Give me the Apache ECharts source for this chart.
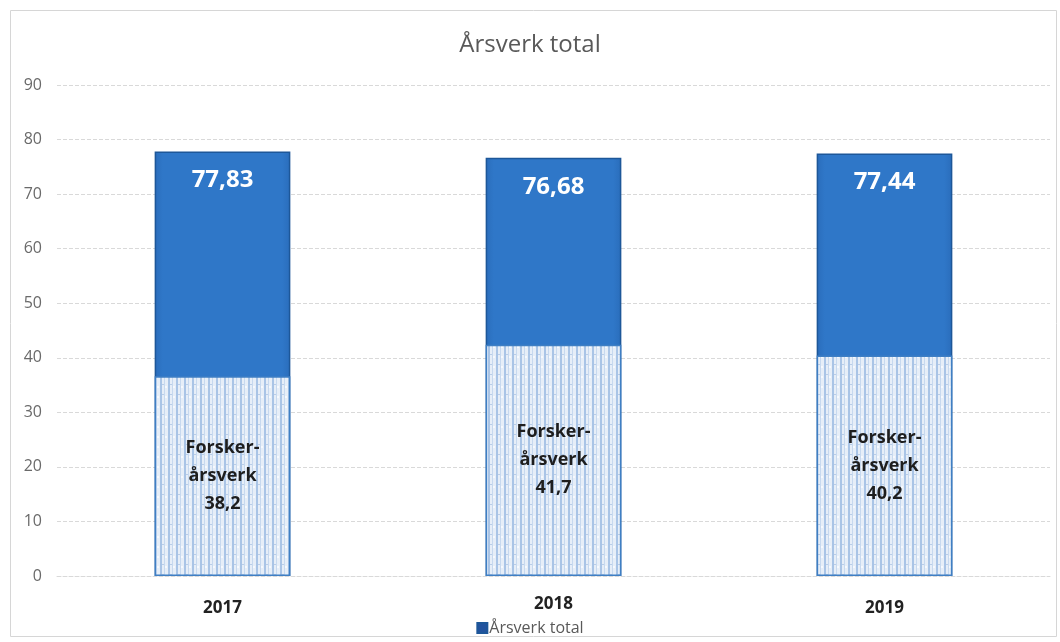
<!DOCTYPE html>
<html><head><meta charset="utf-8">
<script src="https://cdn.jsdelivr.net/npm/echarts@6/dist/echarts.min.js"></script>
<style>html,body{margin:0;padding:0;background:#fff}#c{width:1060px;height:642px}</style>
</head><body><div id="c"></div>
<script>
const categories = ['2017', '2018', '2019'];
const totals = [77.83, 76.68, 77.44];
const forskerHeights = [36.6, 42.4, 40.4];
const forskerValues = [38.2, 41.7, 40.2];
const yTicks = [0, 10, 20, 30, 40, 50, 60, 70, 80, 90];

const fmt = v => String(v).replace('.', ',');

// hatch pattern
const pc = document.createElement('canvas');
pc.width = 8; pc.height = 10;
const g = pc.getContext('2d');
g.fillStyle = '#e6eef8'; g.fillRect(0, 0, 8, 10);
g.fillStyle = '#a9c4e6'; g.fillRect(0, 0, 2, 10);
g.fillStyle = '#c7d9ef'; g.fillRect(4, 0, 1, 10);
g.fillStyle = '#b8cde9'; g.fillRect(2, 4, 2, 1);
g.fillStyle = '#f6f9fd'; g.fillRect(5, 6, 2, 2);

const chart = echarts.init(document.getElementById('c'));
chart.setOption({
  animation: false,
  backgroundColor: '#fff',
  graphic: [{
    type: 'rect', left: 8, top: 8,
    shape: { width: 1046, height: 626 },
    style: { fill: 'none', stroke: '#d6d6d6', lineWidth: 1 }, silent: true
  }],
  title: {
    text: 'Årsverk total', left: 'center', top: 28,
    textStyle: { fontFamily: 'Open Sans', fontSize: 24, fontWeight: 'normal', color: '#595959' }
  },
  legend: {
    bottom: 1, left: 'center', itemWidth: 10, itemHeight: 10, itemGap: 6,
    data: [{ name: 'Årsverk total', icon: 'rect', itemStyle: { color: '#22539e' } }],
    textStyle: { fontFamily: 'Open Sans', fontSize: 16, color: '#595959', padding: [0, 0, 0, -3] }
  },
  grid: { left: 57, right: 10, top: 85, bottom: 66 },
  xAxis: {
    type: 'category', data: categories,
    axisLine: { show: true, lineStyle: { color: '#d9d9d9', type: 'dashed' } },
    axisTick: { show: false },
    axisLabel: {
      margin: 20,
      formatter: v => v === '2018' ? '{b|' + v + '}' : '{a|' + v + '}',
      rich: {
        a: { fontFamily: 'Open Sans', fontSize: 17, fontWeight: 'bold', color: '#222', padding: [4, 0, 0, 0] },
        b: { fontFamily: 'Open Sans', fontSize: 17, fontWeight: 'bold', color: '#222', padding: [0, 0, 10, 0] }
      }
    }
  },
  yAxis: {
    type: 'value', min: 0, max: 90, interval: 10,
    axisLine: { show: false }, axisTick: { show: false },
    axisLabel: {
      margin: 15, fontFamily: 'Open Sans', fontSize: 16, color: '#6a6a6a',
      formatter: v => yTicks.includes(v) ? String(v) : ''
    },
    splitLine: { lineStyle: { color: '#d9d9d9', type: 'dashed' } }
  },
  series: [
    {
      name: 'Årsverk total', type: 'bar', data: totals, barWidth: '41%', barGap: '-100%',
      itemStyle: {
        color: new echarts.graphic.LinearGradient(0, 0, 1, 0, [
          { offset: 0, color: '#2a6dbb' }, { offset: 0.06, color: '#2f77c8' },
          { offset: 0.94, color: '#2f77c8' }, { offset: 1, color: '#2a6dbb' }
        ]),
        borderColor: '#1d5799', borderWidth: 1.5
      },
      label: {
        show: true, position: 'insideTop', distance: 17,
        formatter: p => fmt(p.value),
        fontFamily: 'Open Sans', fontSize: 24, fontWeight: 'bold', color: '#fff'
      },
      z: 2
    },
    {
      name: 'Forsker', type: 'bar', data: forskerHeights, barWidth: '41%',
      itemStyle: {
        color: { image: pc, repeat: 'repeat' },
        borderColor: '#3f7fc4', borderWidth: 1.5
      },
      label: {
        show: true, position: 'inside',
        formatter: p => 'Forsker-\nårsverk\n' + fmt(forskerValues[p.dataIndex]),
        fontFamily: 'Open Sans', fontSize: 18, fontWeight: 'bold', color: '#1e1e1e', lineHeight: 28
      },
      z: 3
    }
  ]
});
</script></body></html>
